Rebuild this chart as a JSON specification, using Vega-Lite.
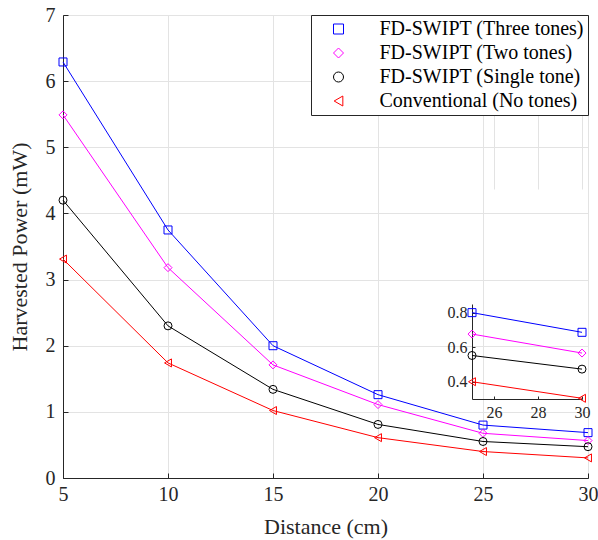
{
  "$schema": "https://vega.github.io/schema/vega-lite/v6.json",
  "width": 525,
  "height": 463,
  "autosize": {"type": "none"},
  "padding": {"left": 63, "top": 15, "right": 10, "bottom": 62},
  "background": "white",
  "config": {
    "font": "Liberation Serif",
    "view": {"stroke": "#262626", "strokeWidth": 1},
    "axis": {
      "labelFont": "Liberation Serif",
      "titleFont": "Liberation Serif",
      "labelColor": "#262626",
      "titleColor": "#262626",
      "titleFontWeight": "normal",
      "domainColor": "#262626",
      "tickColor": "#262626",
      "gridColor": "#e3e3e3",
      "gridWidth": 1,
      "labelOverlap": false
    },
    "legend": {
      "orient": "top-right",
      "offset": 0,
      "padding": 4,
      "strokeColor": "#262626",
      "fillColor": "white",
      "labelFont": "Liberation Serif",
      "labelFontSize": 20,
      "labelColor": "#000000",
      "labelLimit": 400,
      "rowPadding": 4,
      "symbolSize": 100,
      "symbolStrokeWidth": 1,
      "symbolFillColor": "transparent",
      "symbolOffset": 13.5,
      "labelOffset": 31
    }
  },
  "data": {
    "values": [
      {"distance": 5, "power": 6.29, "series": "FD-SWIPT (Three tones)"},
      {"distance": 10, "power": 3.75, "series": "FD-SWIPT (Three tones)"},
      {"distance": 15, "power": 2.0, "series": "FD-SWIPT (Three tones)"},
      {"distance": 20, "power": 1.26, "series": "FD-SWIPT (Three tones)"},
      {"distance": 25, "power": 0.8, "series": "FD-SWIPT (Three tones)"},
      {"distance": 30, "power": 0.686, "series": "FD-SWIPT (Three tones)"},
      {"distance": 5, "power": 5.49, "series": "FD-SWIPT (Two tones)"},
      {"distance": 10, "power": 3.18, "series": "FD-SWIPT (Two tones)"},
      {"distance": 15, "power": 1.71, "series": "FD-SWIPT (Two tones)"},
      {"distance": 20, "power": 1.11, "series": "FD-SWIPT (Two tones)"},
      {"distance": 25, "power": 0.676, "series": "FD-SWIPT (Two tones)"},
      {"distance": 30, "power": 0.566, "series": "FD-SWIPT (Two tones)"},
      {"distance": 5, "power": 4.2, "series": "FD-SWIPT (Single tone)"},
      {"distance": 10, "power": 2.3, "series": "FD-SWIPT (Single tone)"},
      {"distance": 15, "power": 1.34, "series": "FD-SWIPT (Single tone)"},
      {"distance": 20, "power": 0.81, "series": "FD-SWIPT (Single tone)"},
      {"distance": 25, "power": 0.552, "series": "FD-SWIPT (Single tone)"},
      {"distance": 30, "power": 0.473, "series": "FD-SWIPT (Single tone)"},
      {"distance": 5, "power": 3.31, "series": "Conventional (No tones)"},
      {"distance": 10, "power": 1.74, "series": "Conventional (No tones)"},
      {"distance": 15, "power": 1.02, "series": "Conventional (No tones)"},
      {"distance": 20, "power": 0.61, "series": "Conventional (No tones)"},
      {"distance": 25, "power": 0.4, "series": "Conventional (No tones)"},
      {"distance": 30, "power": 0.304, "series": "Conventional (No tones)"}
    ]
  },
  "layer": [
    {
      "encoding": {
        "x": {
          "field": "distance", "type": "quantitative",
          "scale": {"domain": [5, 30], "nice": false, "zero": false},
          "axis": {"values": [5, 10, 15, 20, 25, 30], "title": "Distance (cm)", "labelFontSize": 20, "titleFontSize": 22, "labelFlush": false, "tickSize": -5, "labelPadding": 11, "titlePadding": 12, "grid": true}
        },
        "y": {
          "field": "power", "type": "quantitative",
          "scale": {"domain": [0, 7], "nice": false},
          "axis": {"values": [0, 1, 2, 3, 4, 5, 6, 7], "title": "Harvested Power (mW)", "labelFontSize": 20, "titleFontSize": 22, "tickSize": -5, "labelPadding": 13, "titlePadding": 14, "grid": true}
        }
      },
      "layer": [
        {
          "mark": {"type": "line", "strokeWidth": 1},
          "encoding": {
            "color": {
              "field": "series", "type": "nominal",
              "scale": {"domain": ["FD-SWIPT (Three tones)", "FD-SWIPT (Two tones)", "FD-SWIPT (Single tone)", "Conventional (No tones)"], "range": ["#0000ff", "#ff00ff", "#000000", "#ff0000"]},
              "legend": {
                "title": null,
                "encoding": {"symbols": {"shape": {"value": {"expr": "datum.value === 'FD-SWIPT (Three tones)' ? 'M-3.7,0H-0.8M0.8,0H3.7M-0.8,-0.8H0.8V0.8H-0.8Z' : datum.value === 'FD-SWIPT (Two tones)' ? 'M-3.7,0H-0.8M0.8,0H3.7M0,-1L0.8,0L0,1L-0.8,0Z' : datum.value === 'FD-SWIPT (Single tone)' ? 'M-3.7,0H-0.8M0.8,0H3.7M-0.8,0A0.8,0.8,0,1,0,0.8,0A0.8,0.8,0,1,0,-0.8,0' : 'M-3.7,0H-0.8M0.8,0H3.7M-0.8,0L0.8,-0.9L0.8,0.9Z'"}}, "fill": {"value": "transparent"}, "strokeWidth": {"value": 1}}}
              }
            }
          }
        },
        {
          "mark": {"type": "point", "filled": false, "size": 64, "strokeWidth": 1, "opacity": 1},
          "encoding": {
            "color": {"field": "series", "type": "nominal"},
            "shape": {
              "field": "series", "type": "nominal",
              "scale": {"domain": ["FD-SWIPT (Three tones)", "FD-SWIPT (Two tones)", "FD-SWIPT (Single tone)", "Conventional (No tones)"], "range": ["square", "diamond", "circle", "triangle-left"]},
              "legend": null
            }
          }
        }
      ]
    },
    {
      "encoding": {
        "x": {
          "field": "distance", "type": "quantitative",
          "scale": {"domain": [25, 30], "nice": false, "zero": false, "range": [409, 519]},
          "axis": {"orient": "bottom", "offset": -79, "values": [26, 28, 30], "title": null, "labelFontSize": 16, "labelFlush": false, "grid": true, "tickSize": -3, "labelPadding": 8}
        },
        "y": {
          "field": "power", "type": "quantitative",
          "scale": {"domain": [0.3, 0.85], "nice": false, "zero": false, "range": [384, 289]},
          "axis": {"orient": "left", "offset": -409, "values": [0.4, 0.6, 0.8], "format": ".1f", "title": null, "labelFontSize": 16, "grid": false, "tickSize": -3, "labelPadding": 8}
        }
      },
      "layer": [
        {
          "data": {"values": [{}]},
          "mark": {"type": "rect", "filled": false, "fill": "transparent", "stroke": "#262626", "strokeWidth": 1},
          "encoding": {
            "x": {"datum": 25, "type": "quantitative"},
            "x2": {"datum": 30},
            "y": {"datum": 0.3, "type": "quantitative"},
            "y2": {"datum": 0.85}
          }
        },
        {
          "transform": [{"filter": "datum.distance >= 25"}],
          "mark": {"type": "line", "strokeWidth": 1},
          "encoding": {"color": {"field": "series", "type": "nominal", "legend": null}}
        },
        {
          "transform": [{"filter": "datum.distance >= 25"}],
          "mark": {"type": "point", "filled": false, "size": 64, "strokeWidth": 1, "opacity": 1},
          "encoding": {
            "color": {"field": "series", "type": "nominal", "legend": null},
            "shape": {"field": "series", "type": "nominal", "legend": null}
          }
        }
      ]
    }
  ],
  "resolve": {"scale": {"x": "independent", "y": "independent"}}
}
